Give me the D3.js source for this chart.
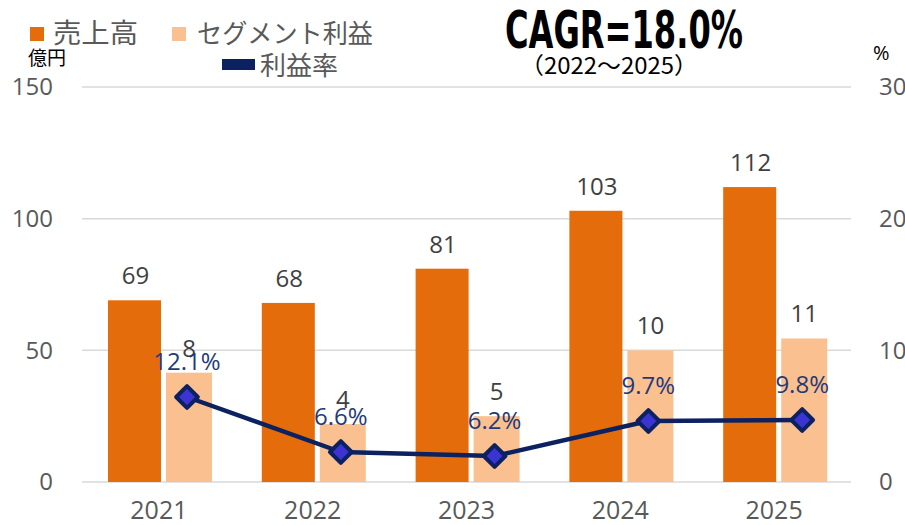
<!DOCTYPE html>
<html>
<head>
  <meta charset="utf-8">
  <title>売上高・セグメント利益</title>
  <script src="https://d3js.org/d3.v7.min.js"></script>
  <style>
    body { margin: 0; background: #fff; }
    text { font-family: "Open Sans", "Noto Sans CJK JP", sans-serif; }
    .jp { font-family: "Noto Sans CJK JP", sans-serif; }
  </style>
</head>
<body>
  <div id="chart"></div>

  <script>
    // data
    var years = ["2021", "2022", "2023", "2024", "2025"];
    var sales = [69, 68, 81, 103, 112];          // 億円, left axis
    var segProfit = [8.3, 4.4, 5.0, 10.0, 10.9];  // 億円, right axis
    var profitRate = [12.1, 6.6, 6.2, 9.7, 9.8];  // %, hidden axis
    var leftTicks = [0, 50, 100, 150];
    var rightTicks = [0, 10, 20, 30];

    var width = 905, height = 525;
    var plot = { left: 82, right: 851, top: 87, bottom: 482 };

    var svg = d3.select("#chart").append("svg")
      .attr("width", width)
      .attr("height", height);

    var x = d3.scaleBand().domain(years).range([plot.left, plot.right]);
    var yL = d3.scaleLinear().domain([0, 150]).range([plot.bottom, plot.top]);
    var yR = d3.scaleLinear().domain([0, 30]).range([plot.bottom, plot.top]);
    var yRate = d3.scaleLinear().domain([3.6, 43.1]).range([plot.bottom, plot.top]);

    // gridlines
    svg.append("g")
      .selectAll("line")
      .data(leftTicks)
      .enter().append("line")
      .attr("x1", plot.left).attr("x2", plot.right)
      .attr("y1", function(d) { return yL(d); })
      .attr("y2", function(d) { return yL(d); })
      .attr("stroke", "#d9d9d9")
      .attr("stroke-width", 1.5);

    // left axis
    var leftAxis = svg.append("g")
      .attr("transform", "translate(" + (plot.left - 29) + ",0)")
      .call(d3.axisLeft(yL).tickValues(leftTicks).tickSize(0).tickPadding(0));
    leftAxis.select(".domain").remove();
    leftAxis.selectAll("text")
      .attr("font-size", 24).attr("fill", "#595959")
      .style("font-family", "'Open Sans', sans-serif");

    // right axis
    var rightAxis = svg.append("g")
      .attr("transform", "translate(" + 879 + ",0)")
      .call(d3.axisRight(yR).tickValues(rightTicks).tickSize(0).tickPadding(0));
    rightAxis.select(".domain").remove();
    rightAxis.selectAll("text")
      .attr("font-size", 24).attr("fill", "#595959")
      .style("font-family", "'Open Sans', sans-serif");

    // x axis labels
    var xAxis = svg.append("g")
      .attr("transform", "translate(0," + (plot.bottom + 19) + ")")
      .call(d3.axisBottom(x).tickSize(0).tickPadding(0));
    xAxis.select(".domain").remove();
    xAxis.selectAll("text")
      .attr("font-size", 25).attr("fill", "#595959")
      .style("font-family", "'Open Sans', sans-serif");

    // bars
    var salesOff = 26, salesW = 53, profOff = 84, profW = 46;

    svg.append("g").selectAll("rect")
      .data(sales)
      .enter().append("rect")
      .attr("x", function(d, i) { return x(years[i]) + salesOff; })
      .attr("y", function(d) { return yL(d); })
      .attr("width", salesW)
      .attr("height", function(d) { return yL(0) - yL(d); })
      .attr("fill", "#e46c0a");

    svg.append("g").selectAll("rect")
      .data(segProfit)
      .enter().append("rect")
      .attr("x", function(d, i) { return x(years[i]) + profOff; })
      .attr("y", function(d) { return yR(d); })
      .attr("width", profW)
      .attr("height", function(d) { return yR(0) - yR(d); })
      .attr("fill", "#fac090");

    // bar labels
    svg.append("g").selectAll("text")
      .data(sales)
      .enter().append("text")
      .attr("x", function(d, i) { return x(years[i]) + salesOff + salesW / 2 + 1; })
      .attr("y", function(d) { return yL(d) - 16; })
      .attr("text-anchor", "middle")
      .attr("font-size", 24)
      .attr("fill", "#404040")
      .text(function(d) { return d; });

    svg.append("g").selectAll("text")
      .data(segProfit)
      .enter().append("text")
      .attr("x", function(d, i) { return x(years[i]) + profOff + profW / 2; })
      .attr("y", function(d) { return yR(d) - 16; })
      .attr("text-anchor", "middle")
      .attr("font-size", 24)
      .attr("fill", "#404040")
      .text(function(d) { return Math.round(d); });

    // profit rate line
    var rateX = function(i) { return x(years[i]) + 105; };
    var line = d3.line()
      .x(function(d, i) { return rateX(i); })
      .y(function(d) { return yRate(d); });

    svg.append("path")
      .datum(profitRate)
      .attr("d", line)
      .attr("fill", "none")
      .attr("stroke", "#0c2160")
      .attr("stroke-width", 4.5)
      .attr("stroke-linejoin", "round");

    svg.append("g").selectAll("path")
      .data(profitRate)
      .enter().append("path")
      .attr("d", d3.symbol().type(d3.symbolDiamond2).size(300))
      .attr("transform", function(d, i) { return "translate(" + rateX(i) + "," + yRate(d) + ")"; })
      .attr("fill", "#3b34d2")
      .attr("stroke", "#0c2160")
      .attr("stroke-width", 4)
      .attr("stroke-linejoin", "round");

    svg.append("g").selectAll("text")
      .data(profitRate)
      .enter().append("text")
      .attr("x", function(d, i) { return rateX(i); })
      .attr("y", function(d) { return yRate(d) - 27; })
      .attr("text-anchor", "middle")
      .attr("font-size", 24)
      .attr("fill", "#1f3a7a")
      .text(function(d) { return d.toFixed(1) + "%"; });

    // legend
    var legend = svg.append("g");
    legend.append("rect").attr("x", 30).attr("y", 27).attr("width", 14).attr("height", 14).attr("fill", "#e46c0a");
    legend.append("text").attr("class", "jp").attr("x", 53).attr("y", 43)
      .attr("font-size", 27).attr("fill", "#595959")
      .attr("textLength", 85).attr("lengthAdjust", "spacingAndGlyphs").text("売上高");
    legend.append("rect").attr("x", 172).attr("y", 27).attr("width", 14).attr("height", 14).attr("fill", "#fac090");
    legend.append("text").attr("class", "jp").attr("x", 197).attr("y", 43)
      .attr("font-size", 26).attr("fill", "#595959")
      .attr("textLength", 176).attr("lengthAdjust", "spacingAndGlyphs").text("セグメント利益");
    legend.append("rect").attr("x", 222).attr("y", 59).attr("width", 33).attr("height", 11).attr("fill", "#0c2160");
    legend.append("text").attr("class", "jp").attr("x", 260).attr("y", 75)
      .attr("font-size", 26).attr("fill", "#595959")
      .attr("textLength", 78).attr("lengthAdjust", "spacingAndGlyphs").text("利益率");

    // units
    svg.append("text").attr("class", "jp").attr("x", 28).attr("y", 65)
      .attr("font-size", 19).attr("fill", "#000").text("億円");
    svg.append("text").attr("x", 873).attr("y", 60)
      .attr("font-size", 20).attr("fill", "#000").text("%");

    // CAGR note
    svg.append("text")
      .attr("x", 505).attr("y", 48)
      .attr("font-size", 52)
      .attr("font-weight", "bold")
      .style("font-family", "'Liberation Sans Narrow', 'DejaVu Sans Condensed', sans-serif")
      .attr("textLength", 238)
      .attr("lengthAdjust", "spacingAndGlyphs")
      .attr("fill", "#000")
      .text("CAGR=18.0%");
    svg.append("text").attr("class", "jp")
      .attr("x", 520).attr("y", 74)
      .attr("font-size", 23)
      .attr("textLength", 178)
      .attr("lengthAdjust", "spacingAndGlyphs")
      .attr("fill", "#000")
      .text("（2022～2025）");
  </script>
</body>
</html>
